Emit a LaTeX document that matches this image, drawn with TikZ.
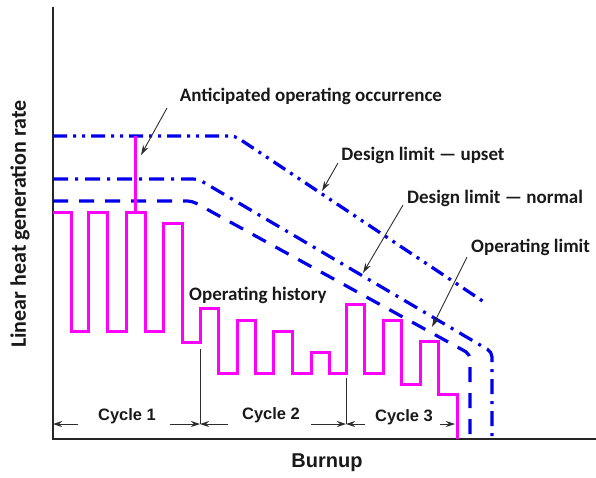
\documentclass[tikz,border=0pt]{standalone}
\usepackage{fontspec}
\setmainfont{Carlito}
\newfontfamily\arialbf{Liberation Sans}[UprightFont=* Bold]
\usetikzlibrary{arrows.meta}
\definecolor{limblue}{RGB}{0,0,235}
\definecolor{histpink}{RGB}{255,0,255}
\definecolor{leader}{RGB}{45,45,45}
\tikzset{
  axisline/.style={line width=1.6pt, black!85},
  history/.style={line width=3pt, histpink, line join=miter},
  limitline/.style={line width=3.2pt, limblue, rounded corners=5pt},
  upsetstyle/.style={limitline, dash pattern=on 14pt off 6pt on 3pt off 6pt on 3pt off 6pt},
  normalstyle/.style={limitline, dash pattern=on 15pt off 7pt on 3pt off 7pt},
  oplimstyle/.style={limitline, dash pattern=on 15pt off 11pt},
  pointer/.style={leader, line width=0.9pt, -{Stealth[length=10pt,width=6pt]}},
  dimarrow/.style={leader, line width=1pt, -{Stealth[length=9pt,width=6pt]}},
  divider/.style={leader, line width=0.9pt},
  lbl/.style={font=\fontsize{19}{21}\selectfont\bfseries, text=black!90, inner sep=0pt},
  cyc/.style={font=\arialbf\fontsize{16.5}{18}\selectfont, text=black!90, inner sep=0pt}
}
\begin{document}
\begin{tikzpicture}[x=1pt,y=-1pt]
\useasboundingbox (0,0) rectangle (596,477);

% axes
\coordinate (origin) at (53,439);
\coordinate (ytop) at (53,7);
\coordinate (xend) at (596,439);
\draw[axisline] (ytop) -- (origin) -- (xend);

% limit curves
\draw[upsetstyle] (53,136) -- (235,136) -- (487,304);
\draw[normalstyle] (53,179) -- (198,179) -- (492,352) -- (492,439);
\draw[oplimstyle] (53,201) -- (192,201) -- (470,354) -- (470,439);

% operating history, three cycles
\draw[history] (53,212) -- (71,212) -- (71,331) -- (88,331) -- (88,212) -- (107,212)
  -- (107,331) -- (126,331) -- (126,212) -- (145,212) -- (145,331) -- (163,331)
  -- (163,223) -- (182,223) -- (182,342) -- (200,342) -- (200,308) -- (218,308)
  -- (218,373) -- (237,373) -- (237,320) -- (255,320) -- (255,373) -- (273,373)
  -- (273,331) -- (292,331) -- (292,373) -- (311,373) -- (311,352) -- (329,352)
  -- (329,373) -- (346,373) -- (346,304) -- (364,304) -- (364,373) -- (383,373)
  -- (383,320) -- (401,320) -- (401,384) -- (420,384) -- (420,341) -- (438,341)
  -- (438,394) -- (457,394) -- (457,439);
% anticipated operating occurrence spike
\draw[history, line cap=butt] (135,213) -- (135,136);

% labels
\node[lbl] (aoo) at (311,96) {Anticipated operating occurrence};
\node[lbl] (upset) at (423,155) {Design limit — upset};
\node[lbl, anchor=west] (normal) at (407,198) {Design limit — normal};
\node[lbl, anchor=west] (oplim) at (471,247) {Operating limit};
\node[lbl, anchor=west] (hist) at (189,295) {Operating history};
\node[lbl, rotate=90, font=\fontsize{22}{24}\selectfont\bfseries] (ylab) at (20,224) {Linear heat generation rate};
\node[cyc, font=\arialbf\fontsize{20}{22}\selectfont] (xlab) at (327,463) {Burnup};

% leader arrows
\coordinate (aooS) at (167,108);  \coordinate (aooT) at (141,155);
\coordinate (upS) at (338,163);   \coordinate (upT) at (322,191);
\coordinate (norS) at (403,205);  \coordinate (norT) at (363,273);
\coordinate (opS) at (467,257);   \coordinate (opT) at (432,327);
\draw[pointer] (aooS) -- (aooT);
\draw[pointer] (upS) -- (upT);
\draw[pointer] (norS) -- (norT);
\draw[pointer] (opS) -- (opT);

% cycle boundaries
\coordinate (b1top) at (200,349); \coordinate (b1) at (200,424);
\coordinate (b2top) at (346,378); \coordinate (b2) at (346,424);
\coordinate (b0) at (53,424);     \coordinate (b3) at (455,424);
\draw[divider] (b1top) -- (b1);
\draw[divider] (b2top) -- (b2);

% cycle labels and dimension arrows
\node[cyc] (c1) at (127,416) {Cycle 1};
\node[cyc] (c2) at (271,415) {Cycle 2};
\node[cyc] (c3) at (404,417) {Cycle 3};
\coordinate (c1l) at (78,424);  \coordinate (c1r) at (170,424);
\coordinate (c2l) at (228,424); \coordinate (c2r) at (311,424);
\coordinate (c3l) at (365,424); \coordinate (c3r) at (440,424);
\draw[dimarrow] (c1l) -- (b0);
\draw[dimarrow] (c1r) -- (b1);
\draw[dimarrow] (c2l) -- (b1);
\draw[dimarrow] (c2r) -- (b2);
\draw[dimarrow] (c3l) -- (b2);
\draw[dimarrow] (c3r) -- (b3);
\end{tikzpicture}
\end{document}
